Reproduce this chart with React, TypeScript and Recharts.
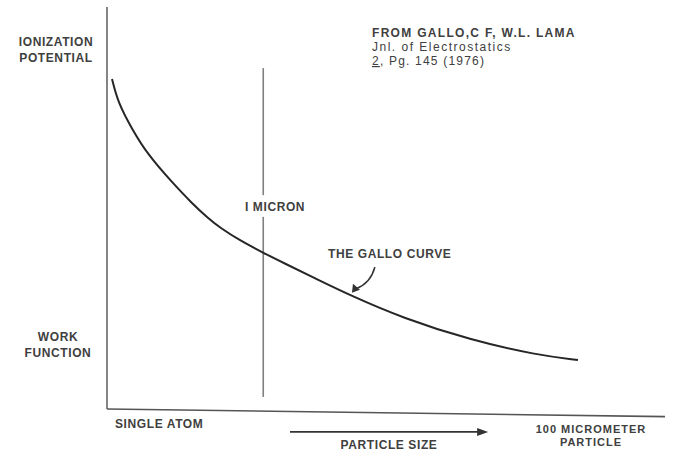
import { LineChart, Line, XAxis, YAxis, ReferenceLine, Customized } from "recharts";

// particle size (arbitrary 0-100 scale, left = single atom, right = 100 µm)
const sizes = [0.9, 2.0, 4.5, 7.35, 11.65, 15.2, 18.1, 20.25, 23.85, 27.95, 31.55, 37.6, 43.55, 53.05, 65.05, 77.05, 84.4];
// energy needed to pull an electron (ionization potential -> work function)
const energies = [82.1, 76.1, 69.6, 63.2, 56.4, 51.2, 47.5, 45.1, 41.9, 38.9, 36.4, 32.3, 28.3, 22.6, 17.2, 13.4, 12.2];

const micronSize = 28.0;
const micronUpper = [84.8, 53.2];
const micronLower = [47.8, 3.0];
const sizeArrow = [32.8, 68.3];
const sizeArrowLevel = -5.7;
const pointerFrom = { x: 48.0, y: 35.3 };
const pointerTo = { x: 43.9, y: 28.9 };
const axisEndDrop = -1.9;

const data = sizes.map((x, i) => ({ x, y: energies[i] }));

const ink = "#404040";
const font = "'Liberation Sans', Arial, sans-serif";

function ArrowLine(props: any) {
  const { x1, y1, x2, y2 } = props;
  return (
    <g>
      <line x1={x1} y1={y1} x2={x2 - 8} y2={y2} stroke="#333" strokeWidth={1.6} />
      <polygon points={`${x2},${y2} ${x2 - 11},${y2 - 4} ${x2 - 11},${y2 + 4}`} fill="#333" />
    </g>
  );
}

function Pointer(props: any) {
  const { x1, y1, x2, y2 } = props;
  const cx = x1 - 4;
  const cy = y2 - 10;
  return (
    <g>
      <path d={`M${x1},${y1} Q${cx},${cy} ${x2 + 4},${y2 - 4}`} stroke="#333" strokeWidth={1.6} fill="none" />
      <polygon points={`${x2},${y2} ${x2 + 1},${y2 - 9} ${x2 + 8},${y2 - 3}`} fill="#333" />
    </g>
  );
}

function Labels() {
  const t = { fontFamily: font, fontSize: 12, fontWeight: 700, fill: ink, letterSpacing: 0.6 } as const;
  const small = { ...t, fontSize: 11, letterSpacing: 1 } as const;
  return (
    <g>
      <text {...t} x={56} y={46} textAnchor="middle">IONIZATION</text>
      <text {...t} x={56} y={62} textAnchor="middle">POTENTIAL</text>
      <text {...t} x={58} y={341} textAnchor="middle">WORK</text>
      <text {...t} x={58} y={357} textAnchor="middle">FUNCTION</text>
      <text {...t} x={115} y={428}>SINGLE ATOM</text>
      <text {...t} x={389} y={449} textAnchor="middle">PARTICLE SIZE</text>
      <text {...small} x={591} y={433} textAnchor="middle">100 MICROMETER</text>
      <text {...small} x={591} y={446} textAnchor="middle">PARTICLE</text>
      <text {...t} x={245} y={211}>I MICRON</text>
      <text {...t} x={328} y={258}>THE GALLO CURVE</text>
      <text {...t} letterSpacing={1.3} x={372} y={37}>FROM GALLO,C F, W.L. LAMA</text>
      <text {...t} fontWeight={400} letterSpacing={1.5} x={372} y={51}>Jnl. of Electrostatics</text>
      <text {...t} fontWeight={400} letterSpacing={1.2} x={372} y={65}>
        <tspan textDecoration="underline">2</tspan>, Pg. 145 (1976)
      </text>
    </g>
  );
}

export default function App() {
  return (
    <div style={{ position: "absolute", left: 0, top: 0, background: "#fff" }}>
      <LineChart width={688} height={455} data={data} margin={{ top: 7, right: 23, bottom: 46, left: 107 }}>
        <XAxis type="number" dataKey="x" domain={[0, 100]} hide allowDataOverflow />
        <YAxis type="number" domain={[0, 100]} hide allowDataOverflow />
        <ReferenceLine x={0} stroke="#666" strokeWidth={1.6} />
        <ReferenceLine
          segment={[{ x: 0, y: 0 }, { x: 100, y: axisEndDrop }]}
          stroke="#555"
          strokeWidth={1.6}
          ifOverflow="visible"
        />
        <ReferenceLine
          segment={[{ x: micronSize, y: micronUpper[0] }, { x: micronSize, y: micronUpper[1] }]}
          stroke="#808080"
          strokeWidth={1.6}
        />
        <ReferenceLine
          segment={[{ x: micronSize, y: micronLower[0] }, { x: micronSize, y: micronLower[1] }]}
          stroke="#808080"
          strokeWidth={1.6}
        />
        <ReferenceLine
          segment={[{ x: sizeArrow[0], y: sizeArrowLevel }, { x: sizeArrow[1], y: sizeArrowLevel }]}
          ifOverflow="visible"
          shape={ArrowLine}
        />
        <ReferenceLine segment={[pointerFrom, pointerTo]} shape={Pointer} />
        <Line
          type="basis"
          dataKey="y"
          stroke="#262626"
          strokeWidth={2}
          dot={false}
          isAnimationActive={false}
        />
        <Customized component={Labels} />
      </LineChart>
    </div>
  );
}
